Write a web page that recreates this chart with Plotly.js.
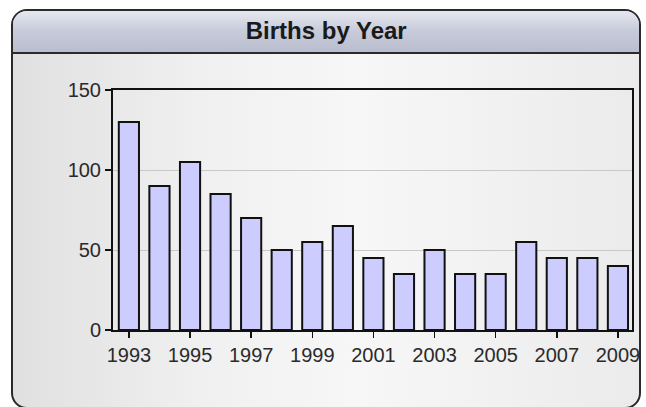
<!DOCTYPE html>
<html>
<head>
<meta charset="utf-8">
<script src="https://cdn.plot.ly/plotly-3.0.1.min.js"></script>
<style>
  html, body { margin: 0; padding: 0; background: #ffffff; }
  #wrap { position: relative; width: 646px; height: 407px; overflow: hidden; }
  #panel {
    position: absolute; left: 11px; top: 9px; width: 630px; height: 400px;
    border: 2px solid #2a2a2a; border-radius: 16px; box-sizing: border-box;
    background: linear-gradient(90deg, #e0e0e0 0%, #f0f0f0 30%, #f7f7f7 55%, #ebebeb 100%);
    overflow: hidden;
  }
  #header {
    position: absolute; left: 0; top: 0; right: 0; height: 41px;
    background: linear-gradient(180deg, #e6e8f0 0%, #c9ccdb 45%, #b9bdcd 100%);
    border-bottom: 2px solid #2a2a2a;
  }
  #chart { position: absolute; left: 0; top: 0; width: 646px; height: 407px; }
</style>
</head>
<body>
<div id="wrap">
  <div id="panel"><div id="header"></div></div>
  <div id="chart"></div>
</div>
<script>
const years = [1993,1994,1995,1996,1997,1998,1999,2000,2001,2002,2003,2004,2005,2006,2007,2008,2009];
const births = [130,90,105,85,70,50,55,65,45,35,50,35,35,55,45,45,40];
const yTicks = [0,50,100,150];
const xTicks = [1993,1995,1997,1999,2001,2003,2005,2007,2009];

const trace = {
  type: 'bar',
  x: years,
  y: births,
  width: 0.66,
  marker: { color: '#ccccff', line: { color: '#111111', width: 2 } },
  hoverinfo: 'x+y'
};

const tickFont = { family: 'Liberation Sans, Arial, sans-serif', size: 20, color: '#2a2a2a' };

const layout = {
  width: 646, height: 407,
  margin: { l: 113, r: 14, t: 90, b: 77, pad: 0 },
  paper_bgcolor: 'rgba(0,0,0,0)',
  plot_bgcolor: 'rgba(0,0,0,0)',
  showlegend: false,
  title: {
    text: '<b>Births by Year</b>',
    font: { family: 'Liberation Sans, Arial, sans-serif', size: 24, color: '#1a1a1a' },
    x: 0.505, xanchor: 'center', y: 0.924, yanchor: 'middle', yref: 'container'
  },
  xaxis: {
    range: [1992.48, 2009.46],
    tickvals: xTicks,
    ticktext: xTicks.map(String),
    ticks: 'outside', ticklen: 6, tickwidth: 1.5, tickcolor: '#111',
    showline: true, linecolor: '#111', linewidth: 2, mirror: true,
    showgrid: false, zeroline: false,
    tickfont: tickFont
  },
  yaxis: {
    range: [0, 150],
    tickvals: yTicks,
    ticks: 'outside', ticklen: 6, tickwidth: 1.5, tickcolor: '#111',
    showline: true, linecolor: '#111', linewidth: 2, mirror: true,
    showgrid: true, gridcolor: '#c8c8c8', gridwidth: 1, zeroline: false,
    tickfont: tickFont
  },
  bargap: 0.34
};

Plotly.newPlot('chart', [trace], layout, { displayModeBar: false, staticPlot: true });
</script>
</body>
</html>
